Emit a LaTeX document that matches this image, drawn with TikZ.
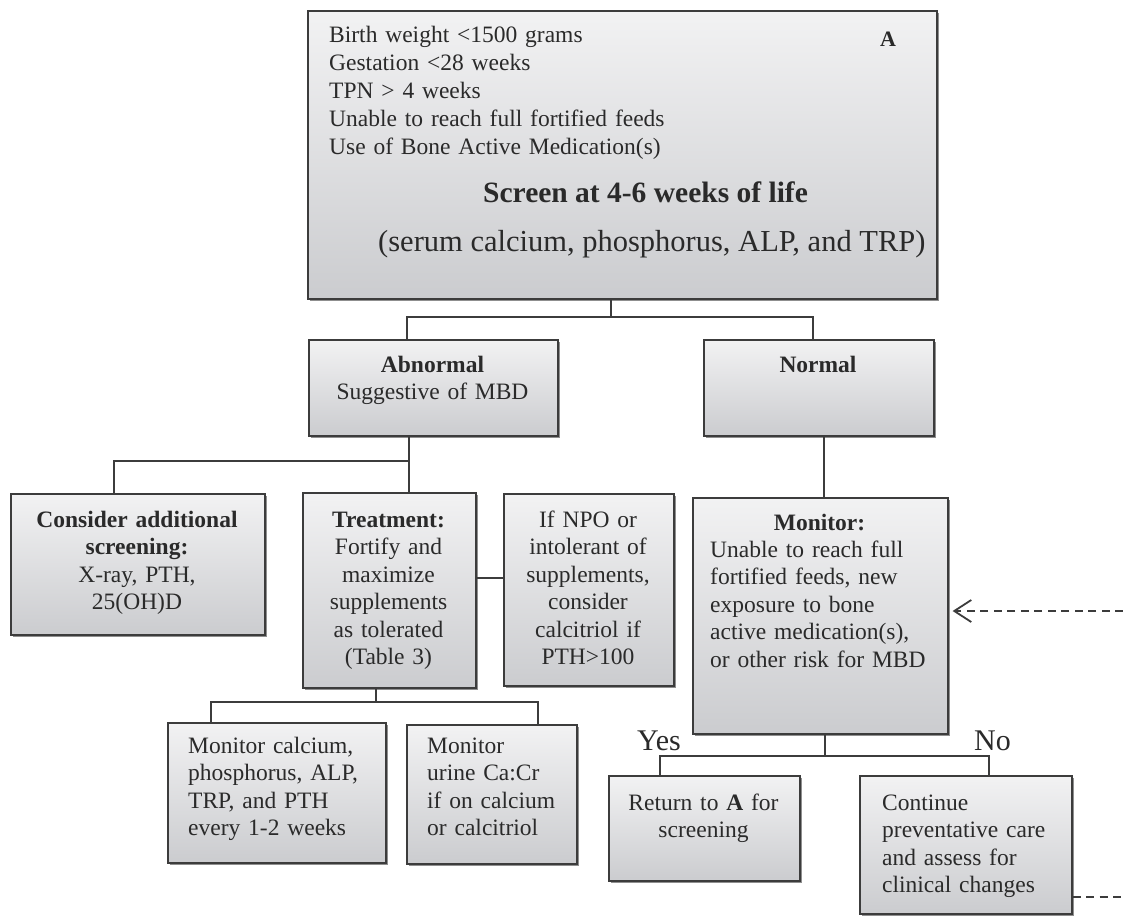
\documentclass[tikz,border=0pt]{standalone}
\usepackage{fontspec}
\setmainfont{Liberation Serif}
\usetikzlibrary{shadows,arrows.meta}
\definecolor{boxtop}{HTML}{F2F2F3}
\definecolor{boxbot}{HTML}{CBCCCF}
\definecolor{edgec}{HTML}{3C3C3C}
\definecolor{ink}{HTML}{2A2A2A}
\definecolor{shadowc}{HTML}{8F8F8F}
\tikzset{
  box/.style={draw=edgec, line width=1.6pt, top color=boxtop, bottom color=boxbot,
    general shadow={fill=shadowc, shadow xshift=2.5pt, shadow yshift=-2.5pt},
    anchor=north west, inner sep=0pt},
  conn/.style={draw=edgec, line width=1.8pt},
  dashline/.style={draw=edgec, line width=1.8pt, dash pattern=on 8pt off 5.5pt},
  bx/.style={font=\fontsize{23.5}{27.5}\selectfont, text=ink, inner sep=0pt},
  lbl/.style={font=\fontsize{30}{34}\selectfont, text=ink, inner sep=0pt, anchor=base west},
}
\begin{document}
\begin{tikzpicture}[x=1pt,y=-1pt]
\useasboundingbox (0,0) rectangle (1123,916);
% boxes
\node[box, minimum width=629pt, minimum height=288pt] (top) at (307,10) {};
\node[box, minimum width=249pt, minimum height=96pt] (abn) at (308,339) {};
\node[box, minimum width=230pt, minimum height=96pt] (nor) at (703,339) {};
\node[box, minimum width=254pt, minimum height=141pt] (con) at (10,493) {};
\node[box, minimum width=173pt, minimum height=195pt] (trt) at (302,492) {};
\node[box, minimum width=170pt, minimum height=192pt] (npo) at (503,493) {};
\node[box, minimum width=255pt, minimum height=236pt] (mon) at (692,497) {};
\node[box, minimum width=218pt, minimum height=140pt] (mcal) at (167,722) {};
\node[box, minimum width=170pt, minimum height=139pt] (urine) at (406,724) {};
\node[box, minimum width=191pt, minimum height=105pt] (ret) at (608,775) {};
\node[box, minimum width=212pt, minimum height=138pt] (cont) at (859,775) {};
% texts
\node[bx, font=\fontsize{23.5}{28}\selectfont, anchor=base west, text width=450pt, align=left] (tlist) at (329,42)
  {Birth weight <1500 grams\\Gestation <28 weeks\\TPN > 4 weeks\\Unable to reach full fortified feeds\\Use of Bone Active Medication(s)};
\node[bx, font=\fontsize{22}{26}\selectfont\bfseries, anchor=base west] (tA) at (880,46) {A};
\node[bx, font=\fontsize{29.5}{34}\selectfont\bfseries, anchor=base west] (tscreen) at (483,202) {Screen at 4-6 weeks of life};
\node[bx, font=\fontsize{30.5}{35}\selectfont, anchor=base west] (tserum) at (378,251) {(serum calcium, phosphorus, ALP, and TRP)};
\node[bx, anchor=base, text width=240pt, align=center] (tabn) at (432.5,372) {\textbf{Abnormal}\\Suggestive of MBD};
\node[bx, anchor=base, font=\fontsize{23.5}{27.5}\selectfont\bfseries] (tnor) at (818,372) {Normal};
\node[bx, anchor=base, text width=250pt, align=center] (tcon) at (137,527) {\textbf{Consider additional}\\\textbf{screening:}\\X-ray, PTH,\\25(OH)D};
\node[bx, anchor=base, text width=170pt, align=center] (ttrt) at (388.5,527) {\textbf{Treatment:}\\Fortify and\\maximize\\supplements\\as tolerated\\(Table 3)};
\node[bx, anchor=base, text width=168pt, align=center] (tnpo) at (588,527) {If NPO or\\intolerant of\\supplements,\\consider\\calcitriol if\\PTH>100};
\node[bx, anchor=base, font=\fontsize{23.5}{27.5}\selectfont\bfseries] (tmonh) at (819.5,530) {Monitor:};
\node[bx, anchor=base west, text width=232pt, align=left] (tmon) at (710,557) {Unable to reach full\\fortified feeds, new\\exposure to bone\\active medication(s),\\or other risk for MBD};
\node[bx, anchor=base west, text width=200pt, align=left] (tmcal) at (188,753) {Monitor calcium,\\phosphorus, ALP,\\TRP, and PTH\\every 1-2 weeks};
\node[bx, anchor=base west, text width=160pt, align=left] (turine) at (427,753) {Monitor\\urine Ca:Cr\\if on calcium\\or calcitriol};
\node[bx, anchor=base, text width=188pt, align=center] (tret) at (703.5,810) {Return to \textbf{A} for\\screening};
\node[bx, anchor=base west, text width=190pt, align=left] (tcont) at (882,810) {Continue\\preventative care\\and assess for\\clinical changes};
\node[lbl] (yes) at (637,750) {Yes};
\node[lbl] (no) at (974,750) {No};
% connectors
\coordinate (j1) at (611,317);
\coordinate (j1l) at (407,317);
\coordinate (j1r) at (813,317);
\draw[conn] (top.south -| j1) -- (j1);
\draw[conn] (abn.north -| j1l) -- (j1l) -- (j1r) -- (nor.north -| j1r);
\coordinate (jn) at (824,466);
\draw[conn] (nor.south -| jn) -- (mon.north -| jn);
\coordinate (ja) at (409,461);
\coordinate (jal) at (113.6,461);
\draw[conn] (abn.south -| ja) -- (ja);
\draw[conn] (con.north -| jal) -- (jal) -- (ja) -- (trt.north -| ja);
\coordinate (jtn) at (0,578);
\draw[conn] (trt.east |- jtn) -- (npo.west |- jtn);
\coordinate (jt) at (376,702);
\coordinate (jtl) at (211,702);
\coordinate (jtr) at (538,702);
\draw[conn] (trt.south -| jt) -- (jt);
\draw[conn] (mcal.north -| jtl) -- (jtl) -- (jtr) -- (urine.north -| jtr);
\coordinate (jm) at (825,756);
\coordinate (jml) at (660,756);
\coordinate (jmr) at (989,756);
\draw[conn] (mon.south -| jm) -- (jm);
\draw[conn] (ret.north -| jml) -- (jml) -- (jmr) -- (cont.north -| jmr);
\coordinate (rin) at (1123,611);
\draw[dashline, -{Straight Barb[length=17pt,width=22pt,line width=1.8pt]}, shorten >=4pt] (rin) -- (mon.east |- rin);
\coordinate (rout) at (1123,897);
\draw[dashline] (cont.east |- rout) -- (rout);
\end{tikzpicture}
\end{document}
